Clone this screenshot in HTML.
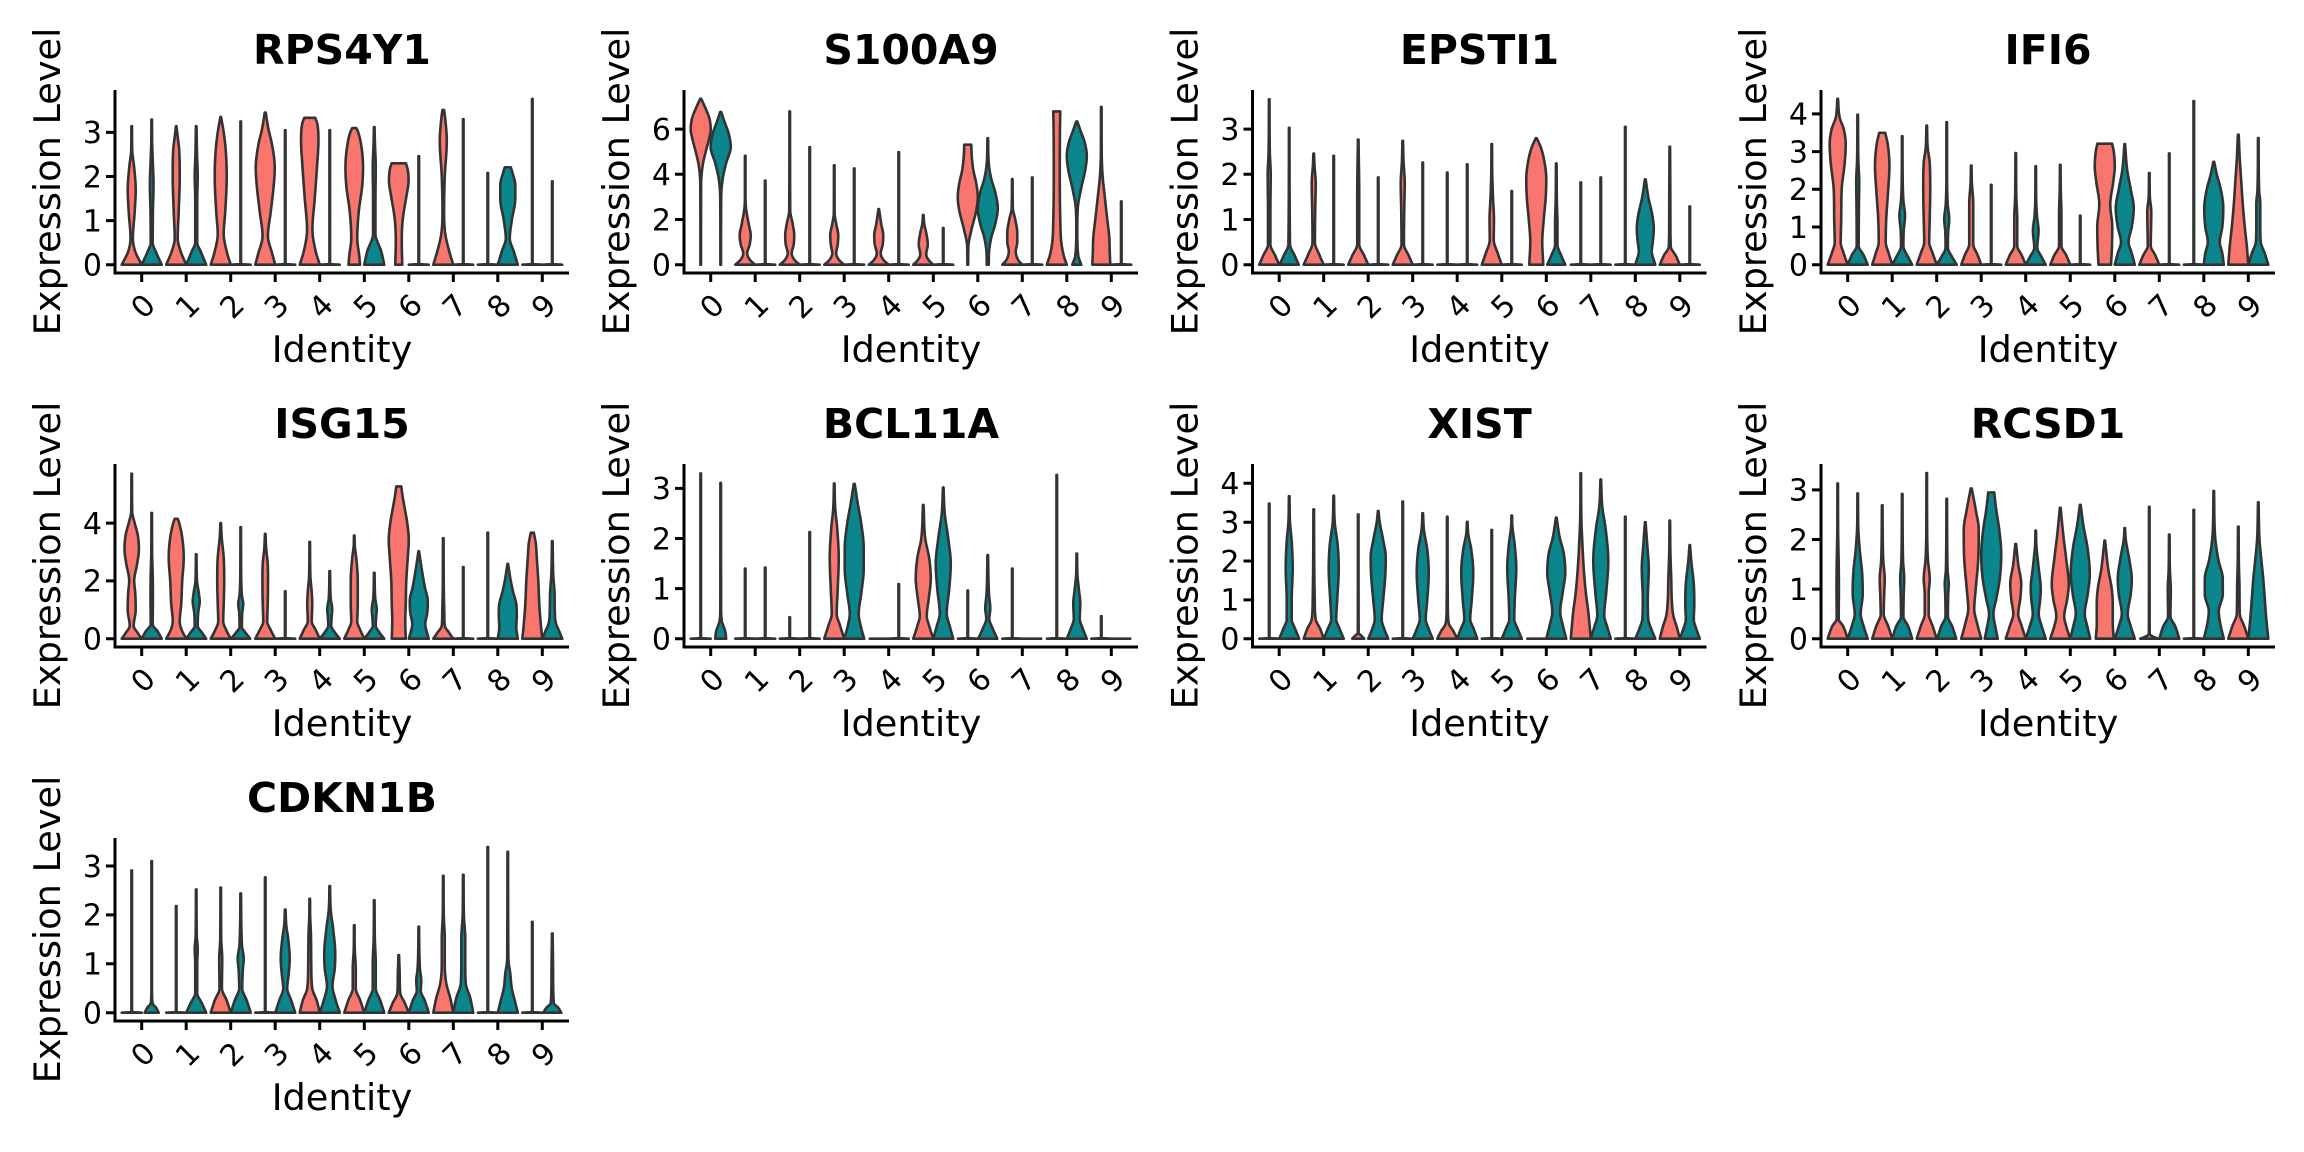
<!DOCTYPE html>
<html><head><meta charset="utf-8">
<style>
html,body{margin:0;padding:0;background:#fff;}
svg{display:block;}
text{font-family:"DejaVu Sans","Liberation Sans",sans-serif;fill:#000;}
.t{font-size:41px;font-weight:bold;text-anchor:middle;}
.al{font-size:36.7px;text-anchor:middle;}
.yn text{font-size:30px;text-anchor:end;}
.xn text{font-size:30px;text-anchor:middle;}
.ax{stroke:#000;stroke-width:3;fill:none;}
</style></head>
<body>
<svg id="s" width="2304" height="1152" viewBox="0 0 2304 1152" xmlns="http://www.w3.org/2000/svg">
<rect width="2304" height="1152" fill="#fff"/>
<defs>
<g id="ax" class="ax">
<path d="M0,0V184.5M-1.5,183H454"/>
<path d="M26.7,183v9M71.2,183v9M115.7,183v9M160.2,183v9M204.7,183v9M249.3,183v9M293.8,183v9M338.3,183v9M382.8,183v9M427.3,183v9"/>
</g>
</defs>

<!-- Panel 0 RPS4Y1 -->
<g transform="translate(115,90)">
<g id="v0"></g>
<use href="#ax"/>
<path class="ax" d="M-9,174.7H0M-9,130.6H0M-9,86.5H0M-9,42.4H0"/>
<text class="t" x="227" y="-26">RPS4Y1</text>
<text class="al" transform="translate(-55,91.5) rotate(-90)">Expression Level</text>
<text class="al" x="227" y="272">Identity</text>
<g class="yn"><text x="-13" y="174.7" dy="0.36em">0</text><text x="-13" y="130.6" dy="0.36em">1</text><text x="-13" y="86.5" dy="0.36em">2</text><text x="-13" y="42.4" dy="0.36em">3</text></g>
<g class="xn"><text transform="translate(27.7,216) rotate(-45)" dy="0.36em">0</text><text transform="translate(72.2,216) rotate(-45)" dy="0.36em">1</text><text transform="translate(116.7,216) rotate(-45)" dy="0.36em">2</text><text transform="translate(161.2,216) rotate(-45)" dy="0.36em">3</text><text transform="translate(205.7,216) rotate(-45)" dy="0.36em">4</text><text transform="translate(250.3,216) rotate(-45)" dy="0.36em">5</text><text transform="translate(294.8,216) rotate(-45)" dy="0.36em">6</text><text transform="translate(339.3,216) rotate(-45)" dy="0.36em">7</text><text transform="translate(383.8,216) rotate(-45)" dy="0.36em">8</text><text transform="translate(428.3,216) rotate(-45)" dy="0.36em">9</text></g>
</g>

<!-- Panel 1 S100A9 -->
<g transform="translate(684,90)">
<g id="v1"></g>
<use href="#ax"/>
<path class="ax" d="M-9,174.7H0M-9,129.5H0M-9,84.3H0M-9,39.1H0"/>
<text class="t" x="227" y="-26">S100A9</text>
<text class="al" transform="translate(-55,91.5) rotate(-90)">Expression Level</text>
<text class="al" x="227" y="272">Identity</text>
<g class="yn"><text x="-13" y="174.7" dy="0.36em">0</text><text x="-13" y="129.5" dy="0.36em">2</text><text x="-13" y="84.3" dy="0.36em">4</text><text x="-13" y="39.1" dy="0.36em">6</text></g>
<g class="xn"><text transform="translate(27.7,216) rotate(-45)" dy="0.36em">0</text><text transform="translate(72.2,216) rotate(-45)" dy="0.36em">1</text><text transform="translate(116.7,216) rotate(-45)" dy="0.36em">2</text><text transform="translate(161.2,216) rotate(-45)" dy="0.36em">3</text><text transform="translate(205.7,216) rotate(-45)" dy="0.36em">4</text><text transform="translate(250.3,216) rotate(-45)" dy="0.36em">5</text><text transform="translate(294.8,216) rotate(-45)" dy="0.36em">6</text><text transform="translate(339.3,216) rotate(-45)" dy="0.36em">7</text><text transform="translate(383.8,216) rotate(-45)" dy="0.36em">8</text><text transform="translate(428.3,216) rotate(-45)" dy="0.36em">9</text></g>
</g>

<!-- Panel 2 EPSTI1 -->
<g transform="translate(1252.5,90)">
<g id="v2"></g>
<use href="#ax"/>
<path class="ax" d="M-9,174.7H0M-9,129.5H0M-9,84.3H0M-9,39.1H0"/>
<text class="t" x="227" y="-26">EPSTI1</text>
<text class="al" transform="translate(-55,91.5) rotate(-90)">Expression Level</text>
<text class="al" x="227" y="272">Identity</text>
<g class="yn"><text x="-13" y="174.7" dy="0.36em">0</text><text x="-13" y="129.5" dy="0.36em">1</text><text x="-13" y="84.3" dy="0.36em">2</text><text x="-13" y="39.1" dy="0.36em">3</text></g>
<g class="xn"><text transform="translate(27.7,216) rotate(-45)" dy="0.36em">0</text><text transform="translate(72.2,216) rotate(-45)" dy="0.36em">1</text><text transform="translate(116.7,216) rotate(-45)" dy="0.36em">2</text><text transform="translate(161.2,216) rotate(-45)" dy="0.36em">3</text><text transform="translate(205.7,216) rotate(-45)" dy="0.36em">4</text><text transform="translate(250.3,216) rotate(-45)" dy="0.36em">5</text><text transform="translate(294.8,216) rotate(-45)" dy="0.36em">6</text><text transform="translate(339.3,216) rotate(-45)" dy="0.36em">7</text><text transform="translate(383.8,216) rotate(-45)" dy="0.36em">8</text><text transform="translate(428.3,216) rotate(-45)" dy="0.36em">9</text></g>
</g>

<!-- Panel 3 IFI6 -->
<g transform="translate(1821,90)">
<g id="v3"></g>
<use href="#ax"/>
<path class="ax" d="M-9,174.7H0M-9,137H0M-9,99.3H0M-9,61.6H0M-9,23.9H0"/>
<text class="t" x="227" y="-26">IFI6</text>
<text class="al" transform="translate(-55,91.5) rotate(-90)">Expression Level</text>
<text class="al" x="227" y="272">Identity</text>
<g class="yn"><text x="-13" y="174.7" dy="0.36em">0</text><text x="-13" y="137" dy="0.36em">1</text><text x="-13" y="99.3" dy="0.36em">2</text><text x="-13" y="61.6" dy="0.36em">3</text><text x="-13" y="23.9" dy="0.36em">4</text></g>
<g class="xn"><text transform="translate(27.7,216) rotate(-45)" dy="0.36em">0</text><text transform="translate(72.2,216) rotate(-45)" dy="0.36em">1</text><text transform="translate(116.7,216) rotate(-45)" dy="0.36em">2</text><text transform="translate(161.2,216) rotate(-45)" dy="0.36em">3</text><text transform="translate(205.7,216) rotate(-45)" dy="0.36em">4</text><text transform="translate(250.3,216) rotate(-45)" dy="0.36em">5</text><text transform="translate(294.8,216) rotate(-45)" dy="0.36em">6</text><text transform="translate(339.3,216) rotate(-45)" dy="0.36em">7</text><text transform="translate(383.8,216) rotate(-45)" dy="0.36em">8</text><text transform="translate(428.3,216) rotate(-45)" dy="0.36em">9</text></g>
</g>

<!-- Panel 4 ISG15 -->
<g transform="translate(115,464)">
<g id="v4"></g>
<use href="#ax"/>
<path class="ax" d="M-9,174.7H0M-9,116.9H0M-9,59.1H0"/>
<text class="t" x="227" y="-26">ISG15</text>
<text class="al" transform="translate(-55,91.5) rotate(-90)">Expression Level</text>
<text class="al" x="227" y="272">Identity</text>
<g class="yn"><text x="-13" y="174.7" dy="0.36em">0</text><text x="-13" y="116.9" dy="0.36em">2</text><text x="-13" y="59.1" dy="0.36em">4</text></g>
<g class="xn"><text transform="translate(27.7,216) rotate(-45)" dy="0.36em">0</text><text transform="translate(72.2,216) rotate(-45)" dy="0.36em">1</text><text transform="translate(116.7,216) rotate(-45)" dy="0.36em">2</text><text transform="translate(161.2,216) rotate(-45)" dy="0.36em">3</text><text transform="translate(205.7,216) rotate(-45)" dy="0.36em">4</text><text transform="translate(250.3,216) rotate(-45)" dy="0.36em">5</text><text transform="translate(294.8,216) rotate(-45)" dy="0.36em">6</text><text transform="translate(339.3,216) rotate(-45)" dy="0.36em">7</text><text transform="translate(383.8,216) rotate(-45)" dy="0.36em">8</text><text transform="translate(428.3,216) rotate(-45)" dy="0.36em">9</text></g>
</g>

<!-- Panel 5 BCL11A -->
<g transform="translate(684,464)">
<g id="v5"></g>
<use href="#ax"/>
<path class="ax" d="M-9,174.7H0M-9,124.6H0M-9,74.5H0M-9,24.4H0"/>
<text class="t" x="227" y="-26">BCL11A</text>
<text class="al" transform="translate(-55,91.5) rotate(-90)">Expression Level</text>
<text class="al" x="227" y="272">Identity</text>
<g class="yn"><text x="-13" y="174.7" dy="0.36em">0</text><text x="-13" y="124.6" dy="0.36em">1</text><text x="-13" y="74.5" dy="0.36em">2</text><text x="-13" y="24.4" dy="0.36em">3</text></g>
<g class="xn"><text transform="translate(27.7,216) rotate(-45)" dy="0.36em">0</text><text transform="translate(72.2,216) rotate(-45)" dy="0.36em">1</text><text transform="translate(116.7,216) rotate(-45)" dy="0.36em">2</text><text transform="translate(161.2,216) rotate(-45)" dy="0.36em">3</text><text transform="translate(205.7,216) rotate(-45)" dy="0.36em">4</text><text transform="translate(250.3,216) rotate(-45)" dy="0.36em">5</text><text transform="translate(294.8,216) rotate(-45)" dy="0.36em">6</text><text transform="translate(339.3,216) rotate(-45)" dy="0.36em">7</text><text transform="translate(383.8,216) rotate(-45)" dy="0.36em">8</text><text transform="translate(428.3,216) rotate(-45)" dy="0.36em">9</text></g>
</g>

<!-- Panel 6 XIST -->
<g transform="translate(1252.5,464)">
<g id="v6"></g>
<use href="#ax"/>
<path class="ax" d="M-9,174.7H0M-9,135.9H0M-9,97H0M-9,58.2H0M-9,19.3H0"/>
<text class="t" x="227" y="-26">XIST</text>
<text class="al" transform="translate(-55,91.5) rotate(-90)">Expression Level</text>
<text class="al" x="227" y="272">Identity</text>
<g class="yn"><text x="-13" y="174.7" dy="0.36em">0</text><text x="-13" y="135.9" dy="0.36em">1</text><text x="-13" y="97" dy="0.36em">2</text><text x="-13" y="58.2" dy="0.36em">3</text><text x="-13" y="19.3" dy="0.36em">4</text></g>
<g class="xn"><text transform="translate(27.7,216) rotate(-45)" dy="0.36em">0</text><text transform="translate(72.2,216) rotate(-45)" dy="0.36em">1</text><text transform="translate(116.7,216) rotate(-45)" dy="0.36em">2</text><text transform="translate(161.2,216) rotate(-45)" dy="0.36em">3</text><text transform="translate(205.7,216) rotate(-45)" dy="0.36em">4</text><text transform="translate(250.3,216) rotate(-45)" dy="0.36em">5</text><text transform="translate(294.8,216) rotate(-45)" dy="0.36em">6</text><text transform="translate(339.3,216) rotate(-45)" dy="0.36em">7</text><text transform="translate(383.8,216) rotate(-45)" dy="0.36em">8</text><text transform="translate(428.3,216) rotate(-45)" dy="0.36em">9</text></g>
</g>

<!-- Panel 7 RCSD1 -->
<g transform="translate(1821,464)">
<g id="v7"></g>
<use href="#ax"/>
<path class="ax" d="M-9,174.7H0M-9,125.1H0M-9,75.5H0M-9,25.9H0"/>
<text class="t" x="227" y="-26">RCSD1</text>
<text class="al" transform="translate(-55,91.5) rotate(-90)">Expression Level</text>
<text class="al" x="227" y="272">Identity</text>
<g class="yn"><text x="-13" y="174.7" dy="0.36em">0</text><text x="-13" y="125.1" dy="0.36em">1</text><text x="-13" y="75.5" dy="0.36em">2</text><text x="-13" y="25.9" dy="0.36em">3</text></g>
<g class="xn"><text transform="translate(27.7,216) rotate(-45)" dy="0.36em">0</text><text transform="translate(72.2,216) rotate(-45)" dy="0.36em">1</text><text transform="translate(116.7,216) rotate(-45)" dy="0.36em">2</text><text transform="translate(161.2,216) rotate(-45)" dy="0.36em">3</text><text transform="translate(205.7,216) rotate(-45)" dy="0.36em">4</text><text transform="translate(250.3,216) rotate(-45)" dy="0.36em">5</text><text transform="translate(294.8,216) rotate(-45)" dy="0.36em">6</text><text transform="translate(339.3,216) rotate(-45)" dy="0.36em">7</text><text transform="translate(383.8,216) rotate(-45)" dy="0.36em">8</text><text transform="translate(428.3,216) rotate(-45)" dy="0.36em">9</text></g>
</g>

<!-- Panel 8 CDKN1B -->
<g transform="translate(115,838)">
<g id="v8"></g>
<use href="#ax"/>
<path class="ax" d="M-9,174.7H0M-9,125.8H0M-9,76.9H0M-9,28H0"/>
<text class="t" x="227" y="-26">CDKN1B</text>
<text class="al" transform="translate(-55,91.5) rotate(-90)">Expression Level</text>
<text class="al" x="227" y="272">Identity</text>
<g class="yn"><text x="-13" y="174.7" dy="0.36em">0</text><text x="-13" y="125.8" dy="0.36em">1</text><text x="-13" y="76.9" dy="0.36em">2</text><text x="-13" y="28" dy="0.36em">3</text></g>
<g class="xn"><text transform="translate(27.7,216) rotate(-45)" dy="0.36em">0</text><text transform="translate(72.2,216) rotate(-45)" dy="0.36em">1</text><text transform="translate(116.7,216) rotate(-45)" dy="0.36em">2</text><text transform="translate(161.2,216) rotate(-45)" dy="0.36em">3</text><text transform="translate(205.7,216) rotate(-45)" dy="0.36em">4</text><text transform="translate(250.3,216) rotate(-45)" dy="0.36em">5</text><text transform="translate(294.8,216) rotate(-45)" dy="0.36em">6</text><text transform="translate(339.3,216) rotate(-45)" dy="0.36em">7</text><text transform="translate(383.8,216) rotate(-45)" dy="0.36em">8</text><text transform="translate(428.3,216) rotate(-45)" dy="0.36em">9</text></g>
</g>
</svg>

<script>
(function(){
var Z=174.7, HW=10.0, SC="#333333", SW=2.6;
var FILL=["#F8766D","#0a868c"];
function TX(i){return 26.7+44.51*i;}
var PANELS=[
{ppu:44.1,d:[
[[0,1],[0.3,0.35],[0.6,0.12],[1.2,0.3],[1.7,0.4],[2.2,0.25],[2.6,0.05],[3.14,0.03]],
[[0,1],[0.3,0.4],[0.5,0.1],[1.2,0.12],[1.8,0.18],[2.4,0.1],[2.8,0.04],[3.29,0.03]],
[[0,1],[0.3,0.45],[0.6,0.15],[1.2,0.25],[2.0,0.35],[2.6,0.3],[2.9,0.15],[3.14,0.03]],
[[0,1],[0.3,0.45],[0.5,0.1],[1.5,0.1],[2.0,0.15],[2.5,0.08],[3.14,0.03]],
[[0,1],[0.3,0.6],[0.7,0.3],[1.2,0.45],[2.0,0.6],[2.6,0.5],[3.0,0.3],[3.35,0.03]],
3.25,
[[0,1],[0.25,0.7],[0.65,0.27],[1.2,0.55],[1.8,0.85],[2.2,0.95],[2.7,0.7],[3.1,0.3],[3.45,0.05]],
3.05,
[[0,1],[0.3,0.6],[0.8,0.27],[1.5,0.5],[2.3,0.75],[2.8,0.87],[3.2,0.75],[3.33,0.55]],
3.05,
[[0,0.58],[0.2,0.5],[0.6,0.3],[1.2,0.45],[1.8,0.8],[2.2,0.88],[2.7,0.7],[3.0,0.4],[3.1,0.2]],
[[0,1],[0.3,0.7],[0.7,0.12],[1.5,0.12],[2.2,0.15],[2.8,0.06],[3.12,0.03]],
[[0,0.35],[0.5,0.3],[0.9,0.35],[1.2,0.5],[1.6,0.8],[1.9,0.98],[2.15,0.9],[2.3,0.72]],
2.46,
[[0,1],[0.3,0.6],[0.7,0.2],[1.2,0.08],[2.0,0.15],[2.8,0.35],[3.3,0.2],[3.51,0.08]],
3.3,
2.08,
[[0,1],[0.3,0.6],[0.6,0.2],[1.0,0.4],[1.5,0.75],[1.8,0.75],[2.1,0.45],[2.21,0.3]],
3.76,
1.89
]},
{ppu:22.6,d:[
[[0,0.03],[3.5,0.04],[4.4,0.2],[5.0,0.5],[5.6,0.85],[6.0,1.0],[6.5,0.85],[6.9,0.5],[7.34,0.05]],
[[0,0.03],[3.0,0.05],[3.8,0.2],[4.5,0.55],[5.2,1.0],[5.8,0.8],[6.3,0.4],[6.76,0.05]],
[[0,1],[0.2,0.5],[0.5,0.2],[0.9,0.45],[1.3,0.55],[1.8,0.35],[2.5,0.08],[3.0,0.03],[4.82,0.03]],
3.72,
[[0,1],[0.2,0.5],[0.5,0.2],[0.9,0.4],[1.3,0.45],[1.8,0.3],[2.4,0.05],[6.78,0.03]],
5.2,
[[0,1],[0.2,0.5],[0.5,0.2],[0.9,0.35],[1.3,0.4],[1.8,0.2],[2.3,0.04],[4.4,0.03]],
4.26,
[[0,1],[0.2,0.5],[0.5,0.2],[0.9,0.4],[1.3,0.45],[1.8,0.25],[2.46,0.03]],
4.98,
[[0,1],[0.2,0.55],[0.45,0.3],[0.9,0.45],[1.4,0.3],[1.8,0.1],[2.2,0.03]],
1.62,
[[0,0.04],[0.8,0.06],[1.6,0.4],[2.4,0.85],[3.0,1.0],[3.6,0.85],[4.2,0.55],[4.8,0.4],[5.31,0.35]],
[[0,0.1],[0.5,0.12],[1.2,0.35],[1.8,0.75],[2.5,1.0],[3.2,0.75],[3.8,0.35],[4.5,0.1],[5.6,0.03]],
[[0,1],[0.2,0.6],[0.6,0.35],[1.0,0.5],[1.4,0.5],[2.0,0.3],[2.5,0.06],[3.79,0.03]],
3.86,
[[0,1],[0.4,0.7],[1.0,0.45],[2.0,0.35],[4.0,0.3],[6.0,0.32],[6.78,0.35]],
[[0,0.45],[0.4,0.15],[1.5,0.05],[2.5,0.1],[3.3,0.4],[4.2,0.85],[4.8,1.0],[5.4,0.8],[5.9,0.4],[6.34,0.05]],
[[0,0.9],[0.5,0.85],[1.2,0.8],[2.0,0.6],[3.0,0.35],[4.0,0.12],[5.0,0.04],[6.98,0.03]],
2.8
]},
{ppu:45.2,d:[
[[0,1],[0.2,0.6],[0.45,0.12],[1.2,0.12],[2.0,0.15],[2.5,0.06],[3.66,0.03]],
[[0,0.95],[0.2,0.55],[0.45,0.08],[3.03,0.03]],
[[0,1],[0.2,0.6],[0.5,0.12],[1.2,0.15],[1.8,0.2],[2.2,0.08],[2.46,0.03]],
2.41,
[[0,1],[0.2,0.6],[0.45,0.1],[1.5,0.1],[2.77,0.03]],
1.93,
[[0,1],[0.2,0.6],[0.45,0.12],[1.2,0.15],[1.8,0.2],[2.3,0.08],[2.74,0.03]],
2.26,
2.04,
2.22,
[[0,1],[0.25,0.6],[0.55,0.2],[1.0,0.22],[1.5,0.12],[2.0,0.05],[2.67,0.03]],
1.63,
[[0,0.7],[0.5,0.6],[1.0,0.75],[1.5,0.95],[1.9,1.0],[2.3,0.8],[2.6,0.45],[2.8,0.05]],
[[0,0.9],[0.2,0.5],[0.45,0.12],[0.9,0.12],[1.4,0.06],[2.24,0.03]],
1.82,
1.93,
3.05,
[[0,1],[0.3,0.65],[0.5,0.75],[0.8,0.85],[1.1,0.7],[1.5,0.3],[1.89,0.04]],
[[0,1],[0.2,0.6],[0.4,0.1],[1.0,0.06],[2.61,0.03]],
1.29
]},
{ppu:37.7,d:[
[[0,1],[0.3,0.6],[0.6,0.3],[1.2,0.35],[2.0,0.4],[2.7,0.7],[3.2,0.8],[3.6,0.6],[3.9,0.2],[4.4,0.03]],
[[0,1],[0.25,0.6],[0.5,0.1],[1.5,0.12],[2.2,0.15],[2.8,0.06],[3.98,0.03]],
[[0,1],[0.3,0.65],[0.6,0.35],[1.2,0.4],[2.0,0.6],[2.6,0.72],[3.2,0.55],[3.5,0.3]],
[[0,1],[0.2,0.6],[0.5,0.12],[0.9,0.15],[1.3,0.28],[1.7,0.12],[2.5,0.04],[3.41,0.03]],
[[0,1],[0.3,0.6],[0.6,0.25],[1.2,0.3],[2.0,0.35],[2.7,0.3],[3.1,0.1],[3.69,0.03]],
[[0,1],[0.2,0.55],[0.45,0.12],[0.9,0.15],[1.2,0.25],[1.6,0.1],[2.5,0.03],[3.78,0.03]],
[[0,1],[0.25,0.65],[0.55,0.2],[1.0,0.2],[1.6,0.2],[2.2,0.06],[2.63,0.03]],
2.12,
[[0,1],[0.25,0.6],[0.5,0.15],[1.2,0.15],[1.8,0.06],[2.96,0.03]],
[[0,1],[0.2,0.6],[0.45,0.15],[0.9,0.28],[1.3,0.12],[1.8,0.04],[2.61,0.03]],
[[0,1],[0.25,0.6],[0.5,0.12],[1.3,0.12],[2.0,0.05],[2.65,0.03]],
1.3,
[[0,0.63],[0.5,0.72],[1.0,0.75],[1.6,0.55],[2.2,0.85],[2.6,1.0],[3.0,0.9],[3.21,0.74]],
[[0,1],[0.3,0.7],[0.6,0.38],[1.0,0.7],[1.5,0.9],[2.0,0.6],[2.5,0.25],[3.2,0.03]],
[[0,1],[0.25,0.6],[0.5,0.15],[1.0,0.18],[1.4,0.2],[1.8,0.06],[2.43,0.03]],
2.95,
4.34,
[[0,1],[0.3,0.85],[0.6,0.6],[1.0,0.85],[1.5,0.95],[2.0,0.7],[2.4,0.3],[2.73,0.04]],
[[0,1],[0.5,0.85],[1.0,0.65],[1.6,0.45],[2.2,0.3],[2.8,0.15],[3.45,0.04]],
[[0,1],[0.3,0.65],[0.6,0.25],[1.0,0.2],[1.6,0.2],[2.0,0.08],[3.36,0.03]]
]},
{ppu:28.9,d:[
[[0,1],[0.2,0.6],[0.45,0.2],[1.0,0.4],[1.6,0.35],[2.0,0.25],[2.6,0.55],[3.1,0.72],[3.6,0.6],[4.0,0.3],[4.4,0.05],[5.71,0.03]],
[[0,1],[0.25,0.6],[0.5,0.1],[1.5,0.12],[2.2,0.1],[3.0,0.04],[4.35,0.03]],
[[0,1],[0.3,0.55],[0.6,0.35],[1.2,0.5],[2.0,0.6],[2.8,0.75],[3.5,0.6],[4.0,0.3],[4.15,0.15]],
[[0,1],[0.2,0.6],[0.45,0.15],[0.9,0.2],[1.3,0.35],[1.6,0.25],[2.0,0.08],[2.92,0.03]],
[[0,1],[0.3,0.55],[0.6,0.25],[1.2,0.3],[2.0,0.35],[2.8,0.3],[3.5,0.1],[4.0,0.03]],
[[0,0.95],[0.2,0.5],[0.4,0.12],[0.9,0.15],[1.2,0.25],[1.5,0.12],[2.5,0.04],[3.86,0.03]],
[[0,1],[0.3,0.55],[0.6,0.2],[1.2,0.25],[2.0,0.28],[2.6,0.25],[3.1,0.1],[3.63,0.03]],
1.64,
[[0,1],[0.3,0.6],[0.6,0.2],[1.2,0.25],[1.6,0.2],[2.2,0.06],[3.35,0.03]],
[[0,1],[0.2,0.55],[0.45,0.15],[0.8,0.2],[1.0,0.25],[1.4,0.1],[2.34,0.03]],
[[0,1],[0.3,0.6],[0.6,0.3],[1.2,0.35],[2.0,0.35],[2.8,0.2],[3.2,0.06],[3.57,0.03]],
[[0,1],[0.2,0.55],[0.45,0.15],[0.8,0.2],[1.0,0.25],[1.4,0.1],[2.28,0.03]],
[[0,0.7],[0.6,0.65],[1.2,0.7],[2.0,0.75],[2.8,0.9],[3.4,1.0],[4.0,0.85],[4.6,0.55],[5.0,0.35],[5.27,0.25]],
[[0,1],[0.3,0.75],[0.5,0.65],[0.9,0.85],[1.3,0.9],[1.8,0.6],[2.4,0.3],[3.03,0.03]],
[[0,1],[0.2,0.6],[0.45,0.15],[0.9,0.1],[1.5,0.06],[3.48,0.03]],
2.48,
3.67,
[[0,1],[0.4,0.85],[0.8,0.9],[1.2,0.85],[1.6,0.55],[2.0,0.3],[2.59,0.03]],
[[0,1],[0.5,0.85],[1.2,0.7],[2.0,0.6],[2.8,0.45],[3.3,0.35],[3.67,0.15]],
[[0,1],[0.25,0.7],[0.55,0.35],[1.0,0.25],[1.6,0.22],[2.2,0.1],[3.38,0.03]]
]},
{ppu:50.1,d:[
3.3,
[[0,0.55],[0.15,0.45],[0.35,0.12],[0.6,0.04],[3.11,0.03]],
1.4,
1.42,
0.43,
2.13,
[[0,1],[0.25,0.6],[0.5,0.25],[1.0,0.35],[1.6,0.45],[2.2,0.3],[2.6,0.1],[3.1,0.03]],
[[0,1],[0.25,0.65],[0.5,0.45],[0.9,0.7],[1.4,0.95],[1.8,0.95],[2.3,0.7],[2.7,0.35],[3.09,0.05]],
0,
1.09,
[[0,1],[0.25,0.6],[0.45,0.35],[0.8,0.55],[1.2,0.75],[1.6,0.6],[2.0,0.2],[2.67,0.03]],
[[0,1],[0.25,0.65],[0.5,0.35],[1.0,0.6],[1.5,0.75],[2.0,0.5],[2.5,0.15],[3.02,0.03]],
0.96,
[[0,0.95],[0.2,0.5],[0.4,0.15],[0.6,0.25],[0.9,0.12],[1.67,0.03]],
1.4,
0,
3.27,
[[0,1],[0.2,0.6],[0.4,0.3],[0.7,0.35],[1.0,0.2],[1.3,0.06],[1.7,0.03]],
0.45,
0
]},
{ppu:38.85,d:[
3.48,
[[0,1],[0.25,0.6],[0.5,0.25],[1.0,0.25],[1.8,0.35],[2.5,0.25],[3.0,0.08],[3.67,0.03]],
[[0,1],[0.25,0.65],[0.5,0.2],[1.0,0.1],[2.0,0.05],[3.33,0.03]],
[[0,1],[0.25,0.6],[0.5,0.25],[1.0,0.35],[1.8,0.5],[2.4,0.4],[3.0,0.1],[3.68,0.03]],
[[0,0.6],[0.08,0.3],[0.15,0.04],[3.2,0.03]],
[[0,1],[0.25,0.6],[0.5,0.35],[1.0,0.5],[1.6,0.7],[2.1,0.75],[2.6,0.45],[3.0,0.15],[3.29,0.03]],
3.53,
[[0,1],[0.25,0.6],[0.5,0.3],[1.0,0.45],[1.7,0.6],[2.3,0.45],[2.8,0.12],[3.23,0.03]],
[[0,1],[0.2,0.6],[0.4,0.15],[0.8,0.06],[3.14,0.03]],
[[0,1],[0.25,0.65],[0.5,0.3],[1.0,0.45],[1.7,0.6],[2.3,0.4],[2.7,0.1],[3.01,0.03]],
2.8,
[[0,1],[0.25,0.6],[0.5,0.25],[1.0,0.3],[1.8,0.45],[2.4,0.3],[2.9,0.06],[3.17,0.03]],
0,
[[0,1],[0.3,0.7],[0.7,0.4],[1.2,0.65],[1.7,0.9],[2.2,0.75],[2.6,0.35],[3.12,0.03]],
[[0,1],[0.3,0.9],[0.7,0.75],[1.2,0.5],[1.8,0.3],[2.5,0.15],[3.2,0.05],[4.26,0.03]],
[[0,1],[0.3,0.65],[0.6,0.35],[1.2,0.55],[2.0,0.75],[2.8,0.5],[3.4,0.15],[4.1,0.03]],
3.14,
[[0,1],[0.25,0.6],[0.5,0.3],[1.0,0.25],[1.8,0.35],[2.4,0.2],[3.0,0.03]],
[[0,1],[0.3,0.7],[0.6,0.35],[1.0,0.2],[1.5,0.15],[2.2,0.06],[3.04,0.03]],
[[0,1],[0.25,0.65],[0.5,0.4],[0.9,0.45],[1.4,0.4],[2.0,0.15],[2.41,0.03]]
]},
{ppu:49.6,d:[
[[0,1],[0.25,0.55],[0.4,0.1],[1.0,0.12],[1.5,0.1],[2.2,0.04],[3.13,0.03]],
[[0,1],[0.25,0.6],[0.5,0.3],[0.9,0.5],[1.3,0.45],[1.8,0.2],[2.3,0.05],[2.93,0.03]],
[[0,1],[0.25,0.6],[0.5,0.15],[0.9,0.2],[1.2,0.25],[1.6,0.1],[2.69,0.03]],
[[0,1],[0.25,0.6],[0.45,0.12],[0.9,0.15],[1.2,0.2],[1.6,0.08],[2.92,0.03]],
[[0,1],[0.25,0.6],[0.5,0.2],[0.9,0.2],[1.2,0.3],[1.6,0.12],[2.2,0.04],[3.34,0.03]],
[[0,0.95],[0.25,0.55],[0.45,0.12],[0.9,0.15],[1.1,0.2],[1.4,0.08],[2.82,0.03]],
[[0,1],[0.3,0.6],[0.6,0.3],[1.0,0.45],[1.6,0.7],[2.2,0.75],[2.6,0.45],[3.03,0.05]],
[[0,0.65],[0.2,0.45],[0.5,0.22],[0.8,0.5],[1.2,0.85],[1.7,1.0],[2.2,0.8],[2.6,0.5],[2.95,0.3]],
[[0,1],[0.25,0.6],[0.5,0.25],[0.8,0.45],[1.1,0.55],[1.5,0.25],[1.91,0.04]],
[[0,1],[0.25,0.6],[0.5,0.3],[0.8,0.45],[1.0,0.5],[1.5,0.25],[1.9,0.06],[2.18,0.03]],
[[0,1],[0.25,0.6],[0.45,0.4],[0.8,0.7],[1.1,0.85],[1.6,0.6],[2.1,0.3],[2.64,0.04]],
[[0,1],[0.25,0.7],[0.5,0.45],[0.9,0.75],[1.3,0.95],[1.8,0.75],[2.3,0.3],[2.7,0.04]],
[[0,0.9],[0.3,0.8],[0.7,0.8],[1.0,0.7],[1.4,0.35],[1.98,0.03]],
[[0,1],[0.25,0.6],[0.5,0.3],[0.9,0.6],[1.2,0.7],[1.6,0.45],[2.0,0.1],[2.23,0.03]],
[[0,0.9],[0.05,0.3],[0.1,0.04],[2.66,0.03]],
[[0,1],[0.25,0.6],[0.45,0.12],[1.0,0.15],[1.4,0.06],[2.1,0.03]],
2.6,
[[0,1],[0.3,0.65],[0.55,0.5],[0.9,0.9],[1.2,0.9],[1.6,0.45],[2.1,0.12],[2.98,0.03]],
[[0,1],[0.25,0.6],[0.5,0.15],[1.0,0.12],[1.5,0.06],[2.26,0.03]],
[[0,1],[0.4,0.8],[0.8,0.65],[1.2,0.5],[1.6,0.3],[2.0,0.12],[2.75,0.03]]
]},
{ppu:48.9,d:[
2.91,
[[0,0.7],[0.1,0.45],[0.2,0.08],[0.5,0.03],[3.1,0.03]],
2.18,
[[0,1],[0.2,0.55],[0.4,0.1],[1.0,0.1],[1.3,0.15],[1.6,0.05],[2.52,0.03]],
[[0,1],[0.25,0.6],[0.5,0.12],[1.1,0.15],[1.5,0.05],[2.56,0.03]],
[[0,1],[0.25,0.6],[0.5,0.15],[0.9,0.22],[1.1,0.3],[1.4,0.12],[2.44,0.03]],
2.77,
[[0,1],[0.25,0.6],[0.5,0.2],[0.8,0.35],[1.1,0.45],[1.5,0.3],[1.8,0.1],[2.11,0.03]],
[[0,1],[0.25,0.7],[0.5,0.25],[1.0,0.15],[1.6,0.12],[2.0,0.04],[2.33,0.03]],
[[0,1],[0.25,0.6],[0.55,0.28],[0.9,0.5],[1.2,0.55],[1.7,0.35],[2.1,0.1],[2.59,0.03]],
[[0,1],[0.25,0.6],[0.5,0.15],[0.9,0.15],[1.3,0.05],[1.79,0.03]],
[[0,1],[0.25,0.6],[0.5,0.15],[1.0,0.15],[1.5,0.06],[2.3,0.03]],
[[0,1],[0.2,0.6],[0.4,0.15],[0.7,0.1],[1.18,0.03]],
[[0,1],[0.25,0.6],[0.45,0.2],[0.65,0.25],[0.9,0.12],[1.3,0.05],[1.76,0.03]],
[[0,1],[0.3,0.7],[0.6,0.3],[1.0,0.15],[1.5,0.15],[2.0,0.05],[2.8,0.03]],
[[0,1],[0.3,0.7],[0.6,0.25],[1.0,0.2],[1.5,0.2],[2.0,0.06],[2.82,0.03]],
3.39,
[[0,1],[0.25,0.7],[0.5,0.4],[0.8,0.25],[1.1,0.06],[3.29,0.03]],
1.86,
[[0,0.9],[0.1,0.6],[0.2,0.15],[0.8,0.08],[1.62,0.03]]
]}
];

function mono(xs,ys){
  var n=xs.length,d=[],m=new Array(n),i;
  for(i=0;i<n-1;i++) d.push((ys[i+1]-ys[i])/(xs[i+1]-xs[i]));
  m[0]=d[0]; m[n-1]=d[n-2];
  for(i=1;i<n-1;i++) m[i]=(d[i-1]*d[i]<=0)?0:(d[i-1]+d[i])/2;
  for(i=0;i<n-1;i++){
    if(d[i]===0){m[i]=0;m[i+1]=0;continue;}
    var a=m[i]/d[i],b=m[i+1]/d[i],s=a*a+b*b;
    if(s>9){var t=3/Math.sqrt(s);m[i]=t*a*d[i];m[i+1]=t*b*d[i];}
  }
  return function(x){
    var k=0; while(k<n-2 && x>xs[k+1]) k++;
    var h=xs[k+1]-xs[k], t=(x-xs[k])/h, t2=t*t, t3=t2*t;
    return (2*t3-3*t2+1)*ys[k]+(t3-2*t2+t)*h*m[k]+(-2*t3+3*t2)*ys[k+1]+(t3-t2)*h*m[k+1];
  };
}

function violin(cx,ppu,spec,fill){
  if(spec===0){
    return '<path d="M'+(cx-HW).toFixed(1)+','+Z+'H'+(cx+HW).toFixed(1)+'" stroke="'+SC+'" stroke-width="'+SW+'" fill="none"/>';
  }
  var pts=(typeof spec==='number')?[[0,1],[0.6/ppu,0.03],[spec,0.03]]:spec;
  var xs=pts.map(function(p){return p[0];}), ys=pts.map(function(p){return p[1];});
  var f=mono(xs,ys), top=xs[xs.length-1];
  var n=Math.max(2,Math.ceil(top*ppu/0.5));
  var R=[],L=[];
  for(var k=0;k<=n;k++){
    var v=top*k/n, w=f(v); if(w<0.02) w=0.02; if(w>1) w=1;
    var y=Z-v*ppu;
    R.push((cx+w*HW).toFixed(2)+','+y.toFixed(2));
    L.push((cx-w*HW).toFixed(2)+','+y.toFixed(2));
  }
  var d='M'+L[0]+'L'+R.join('L')+'L'+L.reverse().join('L')+'Z';
  return '<path d="'+d+'" fill="'+fill+'" stroke="'+SC+'" stroke-width="'+SW+'" stroke-linejoin="round"/>';
}

for(var p=0;p<PANELS.length;p++){
  var P=PANELS[p], out='';
  for(var i=0;i<10;i++){
    var tx=TX(i);
    out+=violin(tx-10,P.ppu,P.d[2*i],FILL[0]);
    out+=violin(tx+10,P.ppu,P.d[2*i+1],FILL[1]);
  }
  document.getElementById('v'+p).innerHTML=out;
}
})();
</script>
</body></html>
